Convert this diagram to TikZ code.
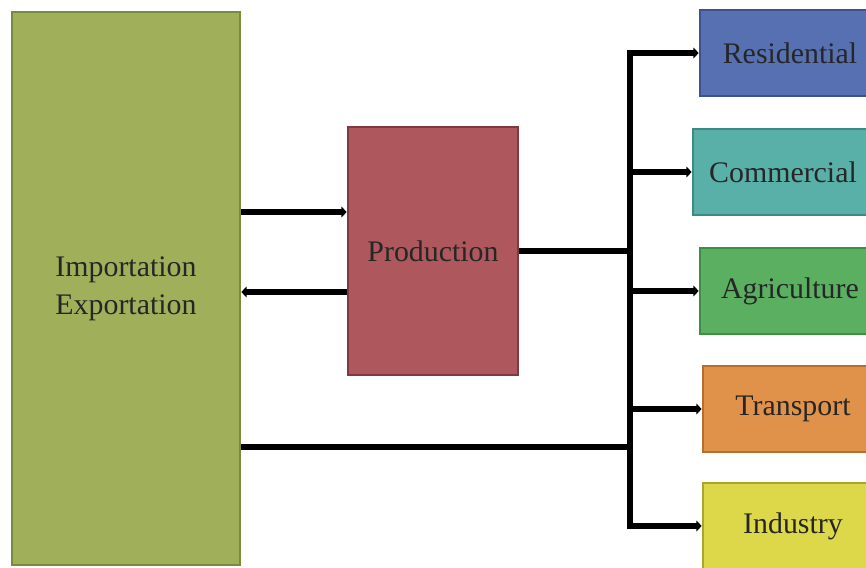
\documentclass[tikz,border=0pt]{standalone}
\usepackage{fontspec}
\setmainfont{Liberation Serif}
\usetikzlibrary{arrows.meta}

\definecolor{ieFill}{HTML}{A0B05A}\definecolor{ieLine}{HTML}{7B8B3E}
\definecolor{prFill}{HTML}{AE585E}\definecolor{prLine}{HTML}{7D3A40}
\definecolor{reFill}{HTML}{5670B2}\definecolor{reLine}{HTML}{3D5390}
\definecolor{coFill}{HTML}{58B0A8}\definecolor{coLine}{HTML}{3D8A83}
\definecolor{agFill}{HTML}{5AB060}\definecolor{agLine}{HTML}{3F8E45}
\definecolor{trFill}{HTML}{E0914A}\definecolor{trLine}{HTML}{B56E30}
\definecolor{inFill}{HTML}{DCD84A}\definecolor{inLine}{HTML}{AAA530}

\tikzset{
  box/.style={rectangle, line width=1.5pt, text=black!85,
    font=\fontsize{17}{21.5}\selectfont, align=center, inner sep=0pt},
  sector/.style={box, minimum width=3.6cm, minimum height=1.72cm},
  link/.style={line width=3.4pt},
  flow/.style={link, -{Triangle[length=3pt,width=6pt]}},
}

\begin{document}
\begin{tikzpicture}[x=0.02cm, y=-0.02cm]
\useasboundingbox (0,0) rectangle (866,568);

\node[box, fill=ieFill, draw=ieLine, minimum width=4.56cm, minimum height=11.06cm]
  (IE) at (126,288.5) {Importation\\Exportation};
\node[box, fill=prFill, draw=prLine, minimum width=3.4cm, minimum height=4.96cm]
  (P) at (433,251) {Production};

\node[sector, fill=reFill, draw=reLine] (R) at (790,53) {Residential};
\node[sector, fill=coFill, draw=coLine] (C) at (783,172) {Commercial};
\node[sector, fill=agFill, draw=agLine] (A) at (790,291) {Agriculture};
\node[sector, fill=trFill, draw=trLine] (T) at (793,409) {Transport};
\node[sector, fill=inFill, draw=inLine] (I) at (793,526) {Industry};

\coordinate (bus) at (630,0);
\coordinate (in1) at ([yshift=0.78cm]P.west);
\coordinate (out1) at ([yshift=-0.82cm]P.west);
\coordinate (imp) at ([yshift=-3.17cm]IE.east);

% exchange with production
\draw[flow] (IE.east |- in1) -- (in1);
\draw[flow] (out1) -- (IE.east |- out1);

% feeders into the bus
\draw[link] (P.east) -- (P.east -| bus);
\draw[link] (imp) -- (imp -| bus);
\draw[link, line cap=rect] (R.west -| bus) -- (I.west -| bus);

% bus to sectors
\foreach \s in {R,C,A,T,I}
  \draw[flow] (\s.west -| bus) -- (\s.west);
\end{tikzpicture}
\end{document}
